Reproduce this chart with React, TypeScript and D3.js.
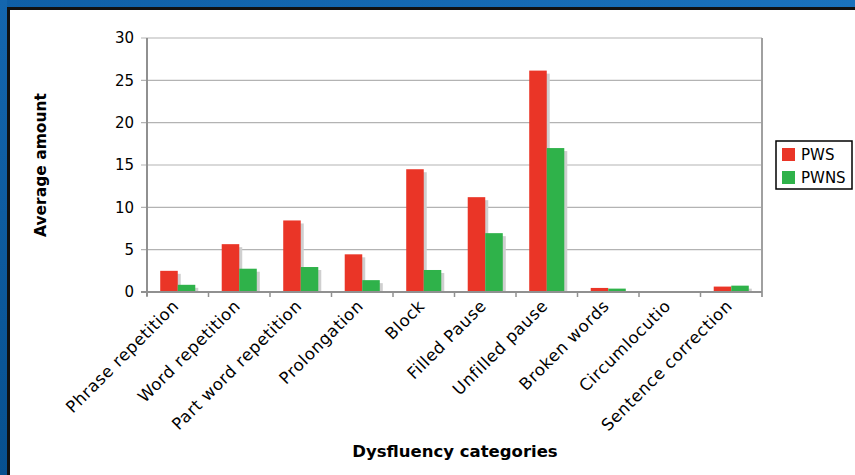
import React from "react";
import * as d3 from "d3";

const categories = [
  "Phrase repetition",
  "Word repetition",
  "Part word repetition",
  "Prolongation",
  "Block",
  "Filled Pause",
  "Unfilled pause",
  "Broken words",
  "Circumlocutio",
  "Sentence correction",
];
const seriesNames = ["PWS", "PWNS"];
const pwsValues = [2.5, 5.65, 8.45, 4.45, 14.5, 11.2, 26.15, 0.48, 0.05, 0.64];
const pwnsValues = [0.85, 2.75, 2.95, 1.4, 2.6, 6.95, 17.0, 0.4, 0.05, 0.75];
const yTicks = [0, 5, 10, 15, 20, 25, 30];
const colors = ["#ea3527", "#2fb24a"];

const W = 855;
const H = 475;
const FONT = "'DejaVu Sans', Verdana, sans-serif";

export default function App() {
  const left = 147;
  const right = 762;
  const top = 38;
  const bottom = 292;

  const x0 = d3.scaleBand<string>().domain(categories).range([left, right]).padding(0);
  const bw = x0.bandwidth();
  const x1 = d3
    .scaleBand<string>()
    .domain(seriesNames)
    .range([bw * 0.215, bw * 0.785])
    .padding(0);
  const y = d3.scaleLinear().domain([0, 30]).range([bottom, top]);

  const series = [pwsValues, pwnsValues];

  const bars = categories.flatMap((c, i) =>
    seriesNames.map((s, j) => ({
      key: `${c}-${s}`,
      x: (x0(c) as number) + (x1(s) as number),
      w: x1.bandwidth(),
      y: y(series[j][i]),
      h: y(0) - y(series[j][i]),
      color: colors[j],
    }))
  );

  return (
    <svg
      width={W}
      height={H}
      style={{ position: "absolute", left: 0, top: 0, background: "#fff" }}
    >
      <defs>
        <linearGradient id="frameTop" x1="0" x2="1" y1="0" y2="0">
          <stop offset="0" stopColor="#0f5fa6" />
          <stop offset="1" stopColor="#1a72bd" />
        </linearGradient>
        <linearGradient id="frameLeft" x1="0" x2="0" y1="0" y2="1">
          <stop offset="0" stopColor="#1466ae" />
          <stop offset="1" stopColor="#07508f" />
        </linearGradient>
      </defs>
      {/* window frame */}
      <rect x={0} y={0} width={W} height={H} fill="#fff" />
      <rect x={0} y={0} width={W} height={7} fill="url(#frameTop)" />
      <rect x={0} y={0} width={7} height={H} fill="url(#frameLeft)" />
      <rect x={7} y={7} width={W - 7} height={3} fill="#111" />
      <rect x={7} y={7} width={3} height={H - 7} fill="#111" />

      {/* grid lines */}
      {yTicks.map((t) => (
        <line
          key={`g${t}`}
          x1={left - 6}
          x2={right}
          y1={y(t)}
          y2={y(t)}
          stroke="#b3b3b3"
          strokeWidth={1.2}
        />
      ))}
      {/* plot area border right */}
      <line x1={right} x2={right} y1={top} y2={bottom + 5} stroke="#a0a0a0" strokeWidth={2} />

      {/* bar shadows */}
      {bars.map((b) => (
        <rect
          key={`s${b.key}`}
          x={b.x + 3}
          y={b.y + 3}
          width={b.w}
          height={Math.max(0, b.h - 3)}
          fill="#cfcfcf"
        />
      ))}
      {bars.map((b) => (
        <rect key={b.key} x={b.x} y={b.y} width={b.w} height={b.h} fill={b.color} />
      ))}

      {/* axes */}
      <line x1={left} x2={left} y1={top} y2={bottom + 4} stroke="#909090" strokeWidth={2} />
      <line x1={left - 6} x2={right} y1={bottom} y2={bottom} stroke="#909090" strokeWidth={2} />
      {categories.map((c, i) => (
        <line
          key={`t${i}`}
          x1={x0(c) as number}
          x2={x0(c) as number}
          y1={bottom}
          y2={bottom + 5}
          stroke="#909090"
          strokeWidth={1.5}
        />
      ))}

      {/* y tick labels */}
      {yTicks.map((t) => (
        <text
          key={`yl${t}`}
          x={134}
          y={y(t)}
          dy="0.36em"
          textAnchor="end"
          fontFamily={FONT}
          fontSize={15}
          fill="#000"
        >
          {t}
        </text>
      ))}

      {/* category labels */}
      {categories.map((c) => {
        const cx = (x0(c) as number) + bw / 2;
        return (
          <text
            key={`cl${c}`}
            transform={`translate(${cx + 2},${bottom + 15}) rotate(-45)`}
            textAnchor="end"
            fontFamily={FONT}
            fontSize={16.5}
            letterSpacing={0.6}
            fill="#000"
          >
            {c}
          </text>
        );
      })}

      {/* axis titles */}
      <text
        transform={`translate(46,${165}) rotate(-90)`}
        textAnchor="middle"
        fontFamily={FONT}
        fontSize={15.5}
        fontWeight="bold"
      >
        Average amount
      </text>
      <text
        x={455}
        y={457}
        textAnchor="middle"
        fontFamily={FONT}
        fontSize={16.5}
        fontWeight="bold"
      >
        Dysfluency categories
      </text>

      {/* legend */}
      <rect x={776} y={141} width={76} height={48} fill="#fff" stroke="#000" strokeWidth={1.5} />
      {seriesNames.map((s, j) => (
        <g key={`lg${s}`} transform={`translate(782,${148 + j * 23})`}>
          <rect x={0} y={0} width={13} height={13} fill={colors[j]} />
          <text x={19} y={7} dy="0.36em" fontFamily={FONT} fontSize={15} fill="#000">
            {s}
          </text>
        </g>
      ))}
    </svg>
  );
}
